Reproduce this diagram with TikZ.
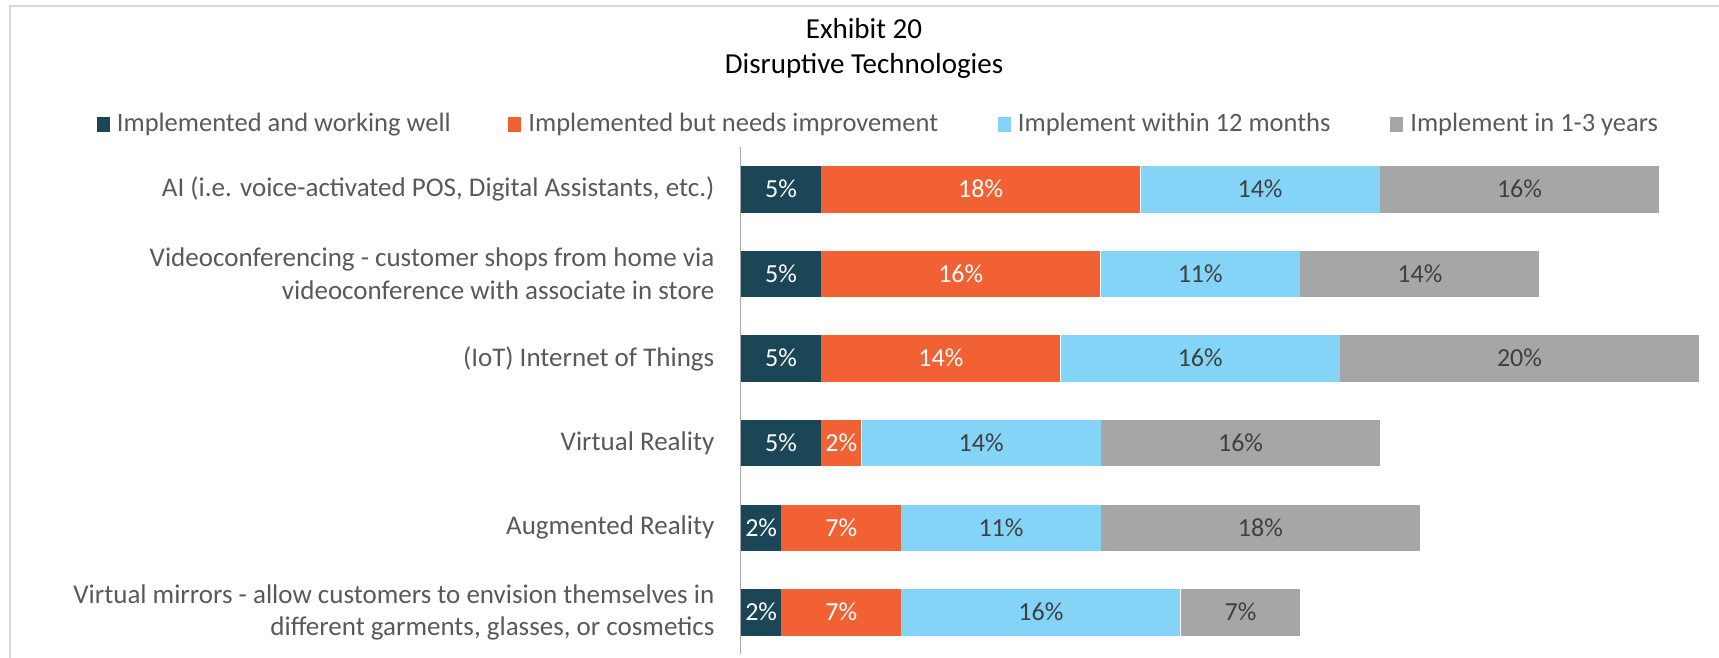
\documentclass[tikz,border=0pt]{standalone}
\usepackage{fontspec}
\setmainfont{Carlito}
\usepackage{xcolor}
\usetikzlibrary{positioning}

\definecolor{wellc}{HTML}{1A4658}
\definecolor{needc}{HTML}{F16134}
\definecolor{soonc}{HTML}{83D4F7}
\definecolor{laterc}{HTML}{A6A6A6}
\definecolor{txtc}{HTML}{595959}
\definecolor{valc}{HTML}{404040}
\definecolor{framec}{HTML}{D9D9D9}
\definecolor{axisc}{HTML}{A6A6A6}

\newcommand{\labfont}{\fontsize{27}{32.5}\selectfont}
\newcommand{\keyfont}{\fontsize{26.5}{32}\selectfont}
\newcommand{\valfont}{\fontsize{26}{32}\selectfont}
\newcommand{\ttlfont}{\fontsize{29}{35}\selectfont}
% share of the 44 answers, as printed on the bars
\newcommand{\share}[1]{\pgfmathtruncatemacro{\shr}{round(100*#1/44)}\shr\%}

\tikzset{
  seg/.style={anchor=west, inner sep=0pt, minimum height=46.5pt, text height=16.5pt, text depth=0pt, font=\valfont},
  catlabel/.style={anchor=east, inner sep=0pt, align=right, text=txtc, font=\labfont},
  key/.style={inner sep=0pt, minimum width=13pt, minimum height=15pt},
  keytext/.style={inner sep=0pt, text height=15pt, text depth=0pt, text=txtc, font=\keyfont}
}

\begin{document}
\begin{tikzpicture}[x=1pt, y=-1pt]
    \useasboundingbox (0,0) rectangle (1719,658);
    \draw[framec, line width=2pt] (10.3,658) -- (10.3,6) -- (1719,6);

    % title
    \node[anchor=base, inner sep=0pt, font=\ttlfont] (title) at (864,38.7) {Exhibit 20};
    \node[anchor=base, inner sep=0pt, font=\ttlfont] (subtitle) at ([yshift=-34.8pt]title.base) {Disruptive Technologies};

    % legend
    \node[key, fill=wellc] (k1) at (103,124.5) {};
    \node[keytext, right=7pt of k1] (t1) {Implemented and working well};
    \node[key, fill=needc, right=57pt of t1] (k2) {};
    \node[keytext, right=7pt of k2] (t2) {Implemented but needs improvement};
    \node[key, fill=soonc, right=59pt of t2] (k3) {};
    \node[keytext, right=7pt of k3] (t3) {Implement within 12 months};
    \node[key, fill=laterc, right=59pt of t3] (k4) {};
    \node[keytext, right=7pt of k4] (t4) {Implement in 1-3 years};

    % bars, in numbers of answers
    \foreach \row/\a/\b/\c/\d/\lab in {
        1/2/8/6/7/{AI (i.e. voice-activated POS, Digital Assistants, etc.)},
        2/2/7/5/6/{Videoconferencing - customer shops from home via\\videoconference with associate in store},
        3/2/6/7/9/{(IoT) Internet of Things},
        4/2/1/6/7/{Virtual Reality},
        5/1/3/5/8/{Augmented Reality},
        6/1/3/7/3/{Virtual mirrors - allow customers to envision themselves in\\different garments, glasses, or cosmetics}}
    {
        \coordinate (r\row) at (741,{189.3+(\row-1)*84.64});
        \node[seg, fill=wellc, text=white, minimum width=\a*39.85pt] (w\row) at (r\row) {\share{\a}};
        \node[seg, fill=needc, text=white, minimum width=\b*39.85pt, right=0pt of w\row] (n\row) {\share{\b}};
        \node[seg, fill=soonc, text=valc, minimum width=\c*39.85pt, right=0pt of n\row] (s\row) {\share{\c}};
        \node[seg, fill=laterc, text=valc, minimum width=\d*39.85pt, right=0pt of s\row] (l\row) {\share{\d}};
        \node[catlabel] (c\row) at ([xshift=-26.5pt]r\row) {\lab};
    }

    % category axis
    \coordinate (axtop) at (740.5,147);
    \coordinate (axbot) at (740.5,654);
    \draw[axisc, line width=1.5pt] (axtop) -- (axbot);
\end{tikzpicture}
\end{document}
